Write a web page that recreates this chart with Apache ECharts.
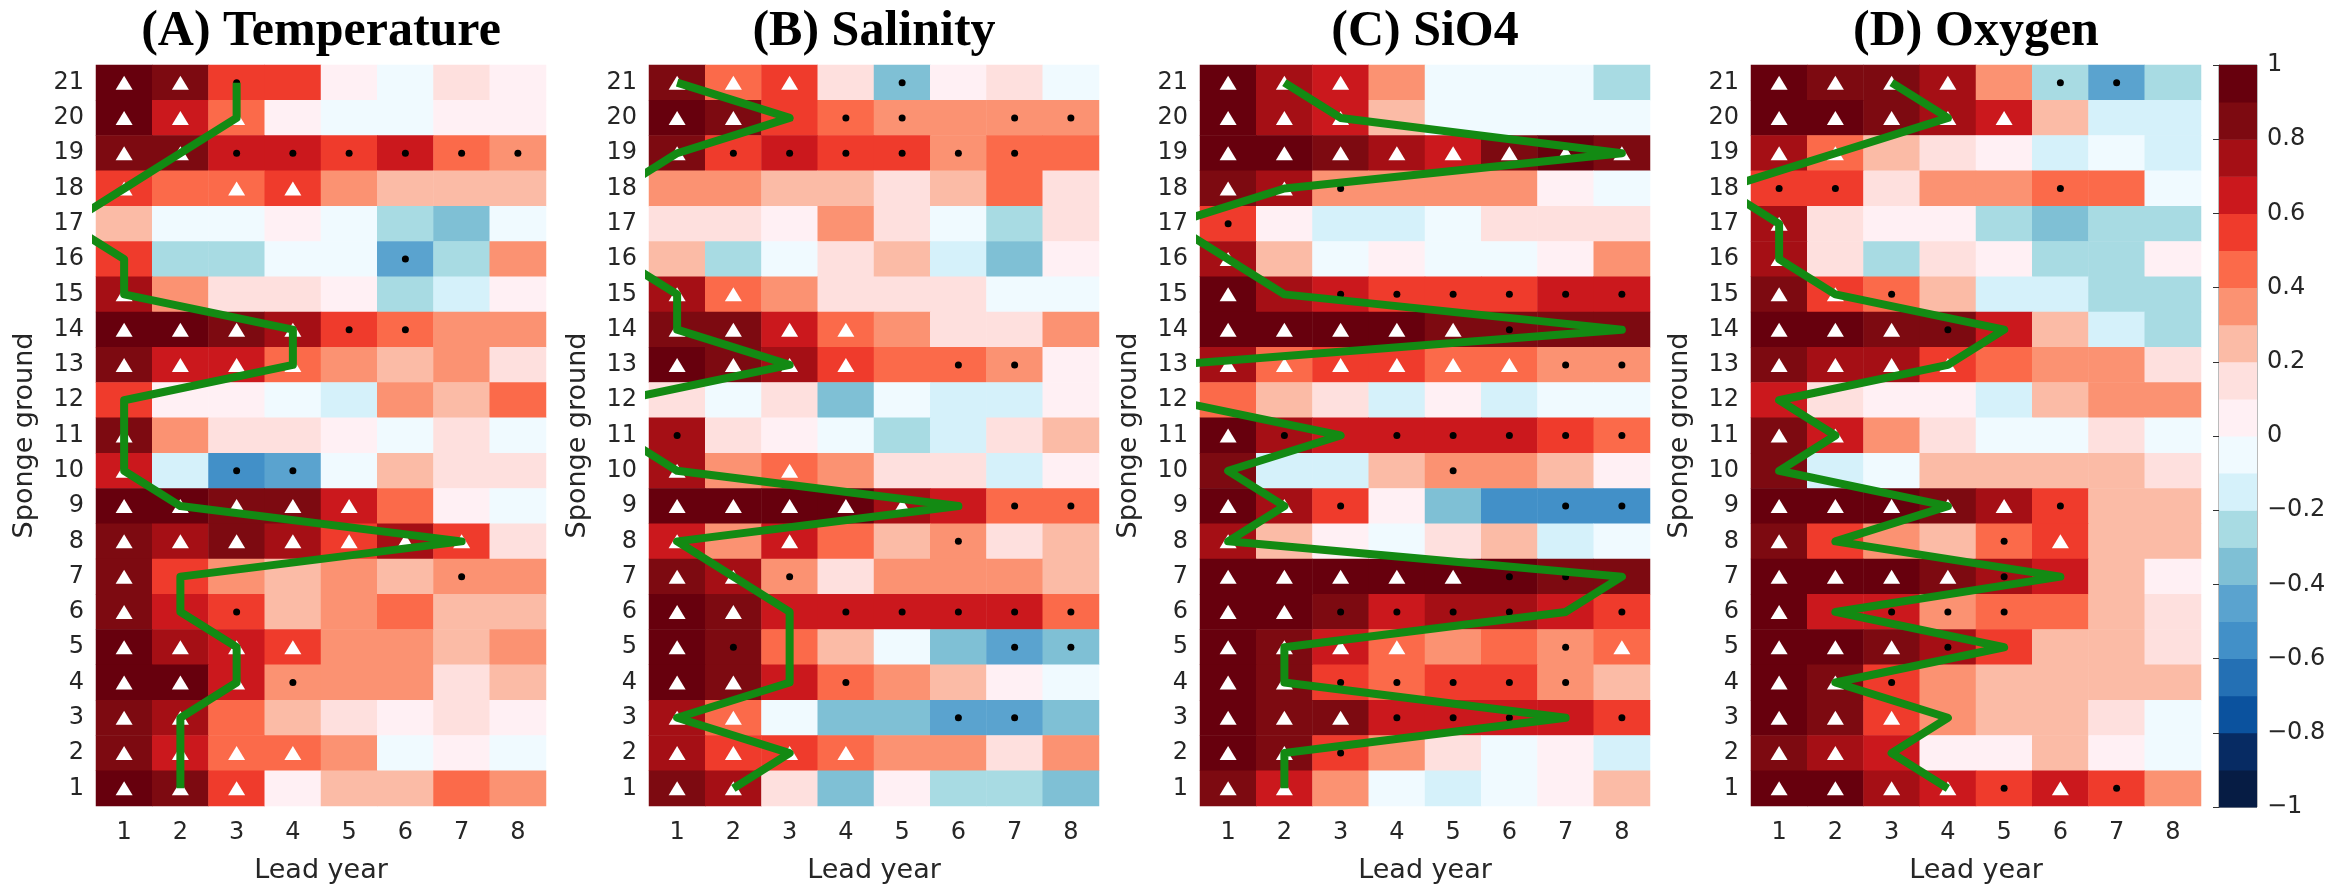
<!DOCTYPE html>
<html>
<head>
<meta charset="utf-8">
<script src="https://cdn.jsdelivr.net/npm/echarts@6/dist/echarts.min.js"></script>
<style>
html,body{margin:0;padding:0;background:#fff;}
#chart{width:2344px;height:889px;}
</style>
</head>
<body>
<div id="chart"></div>
<script>
// ---------- DATA ----------
const leadYears = ['1','2','3','4','5','6','7','8'];
const grounds = ['1','2','3','4','5','6','7','8','9','10','11','12','13','14','15','16','17','18','19','20','21'];
const panelTitles = ['(A) Temperature','(B) Salinity','(C) SiO4','(D) Oxygen'];
const colorbarTicks = [-1,-0.8,-0.6,-0.4,-0.2,0,0.2,0.4,0.6,0.8,1];

// correlation values, rows listed from sponge ground 21 (top) down to 1; columns = lead year 1..8
const tempRows = [
  [0.95,0.85,0.55,0.55,0.05,-0.05,0.15,0.05],
  [0.95,0.65,0.45,0.05,-0.05,-0.05,0.05,0.05],
  [0.85,0.85,0.65,0.65,0.55,0.65,0.45,0.35],
  [0.55,0.45,0.45,0.55,0.35,0.25,0.25,0.25],
  [0.25,-0.05,-0.05,0.05,-0.05,-0.25,-0.35,-0.05],
  [0.55,-0.25,-0.25,-0.05,-0.05,-0.45,-0.25,0.35],
  [0.75,0.35,0.15,0.15,0.05,-0.25,-0.15,0.05],
  [0.95,0.95,0.85,0.75,0.55,0.45,0.35,0.35],
  [0.85,0.65,0.65,0.45,0.35,0.25,0.35,0.15],
  [0.55,0.05,0.05,-0.05,-0.15,0.35,0.25,0.45],
  [0.85,0.35,0.15,0.15,0.05,-0.05,0.15,-0.05],
  [0.65,-0.15,-0.55,-0.45,-0.05,0.25,0.15,0.15],
  [0.95,0.95,0.85,0.85,0.65,0.45,0.05,-0.05],
  [0.85,0.75,0.85,0.75,0.55,0.75,0.55,0.15],
  [0.85,0.55,0.35,0.25,0.35,0.25,0.35,0.35],
  [0.85,0.65,0.55,0.25,0.35,0.45,0.25,0.25],
  [0.95,0.75,0.65,0.55,0.35,0.35,0.25,0.35],
  [0.95,0.95,0.65,0.35,0.35,0.35,0.15,0.25],
  [0.85,0.75,0.45,0.25,0.15,0.05,0.15,0.05],
  [0.85,0.65,0.45,0.45,0.35,-0.05,0.05,-0.05],
  [0.95,0.85,0.55,0.05,0.25,0.25,0.45,0.35]
];
const salRows = [
  [0.85,0.45,0.55,0.15,-0.35,0.05,0.15,-0.05],
  [0.95,0.85,0.55,0.45,0.35,0.35,0.35,0.35],
  [0.85,0.55,0.65,0.55,0.55,0.35,0.45,0.45],
  [0.35,0.35,0.25,0.25,0.15,0.25,0.45,0.15],
  [0.15,0.15,0.05,0.35,0.15,-0.05,-0.25,0.15],
  [0.25,-0.25,-0.05,0.15,0.25,-0.15,-0.35,0.05],
  [0.75,0.45,0.35,0.15,0.15,0.15,-0.05,-0.05],
  [0.85,0.85,0.65,0.45,0.35,0.15,0.15,0.35],
  [0.95,0.85,0.75,0.55,0.45,0.45,0.35,0.05],
  [0.15,-0.05,0.15,-0.35,-0.05,-0.15,-0.15,0.05],
  [0.75,0.15,0.05,-0.05,-0.25,-0.15,0.15,0.25],
  [0.75,0.35,0.45,0.35,0.15,0.15,-0.15,0.05],
  [0.95,0.95,0.95,0.95,0.75,0.65,0.45,0.45],
  [0.65,0.35,0.65,0.45,0.25,0.35,0.15,0.25],
  [0.85,0.75,0.35,0.15,0.35,0.35,0.35,0.25],
  [0.95,0.85,0.65,0.65,0.65,0.65,0.65,0.45],
  [0.95,0.85,0.45,0.25,-0.05,-0.35,-0.45,-0.35],
  [0.95,0.85,0.65,0.45,0.35,0.25,0.05,-0.05],
  [0.75,0.45,-0.05,-0.35,-0.35,-0.45,-0.45,-0.35],
  [0.75,0.55,0.55,0.45,0.35,0.35,0.15,0.35],
  [0.85,0.75,0.15,-0.35,0.05,-0.25,-0.25,-0.35]
];
const sioRows = [
  [0.95,0.75,0.65,0.35,-0.05,-0.05,-0.05,-0.25],
  [0.95,0.75,0.65,0.25,-0.05,-0.05,-0.05,-0.05],
  [0.95,0.95,0.85,0.75,0.65,0.85,0.95,0.85],
  [0.85,0.75,0.35,0.35,0.35,0.35,0.05,-0.05],
  [0.55,0.05,-0.15,-0.15,-0.05,0.15,0.15,0.15],
  [0.75,0.25,-0.05,0.05,-0.05,-0.05,0.05,0.35],
  [0.95,0.75,0.65,0.55,0.55,0.55,0.65,0.65],
  [0.95,0.95,0.95,0.95,0.85,0.85,0.85,0.85],
  [0.75,0.45,0.55,0.55,0.45,0.45,0.35,0.35],
  [0.45,0.25,0.15,-0.15,0.05,-0.15,-0.05,-0.05],
  [0.95,0.75,0.65,0.65,0.65,0.65,0.55,0.45],
  [0.85,-0.15,-0.15,0.25,0.35,0.35,0.25,0.05],
  [0.95,0.75,0.55,0.05,-0.35,-0.55,-0.55,-0.55],
  [0.75,0.25,0.05,-0.05,0.15,0.25,-0.15,-0.05],
  [0.95,0.95,0.95,0.95,0.95,0.95,0.85,0.85],
  [0.95,0.95,0.85,0.65,0.75,0.75,0.65,0.55],
  [0.95,0.85,0.65,0.45,0.35,0.45,0.35,0.45],
  [0.95,0.85,0.55,0.45,0.55,0.55,0.35,0.25],
  [0.95,0.85,0.85,0.65,0.65,0.65,0.65,0.55],
  [0.95,0.85,0.55,0.35,0.15,-0.05,0.05,-0.15],
  [0.85,0.65,0.35,-0.05,-0.15,-0.05,0.05,0.25]
];
const oxyRows = [
  [0.95,0.85,0.85,0.75,0.35,-0.25,-0.45,-0.25],
  [0.95,0.95,0.85,0.75,0.65,0.25,-0.15,-0.15],
  [0.75,0.45,0.25,0.15,0.05,-0.15,-0.05,-0.15],
  [0.55,0.55,0.15,0.35,0.35,0.45,0.45,-0.05],
  [0.75,0.15,0.05,0.05,-0.25,-0.35,-0.25,-0.25],
  [0.75,0.15,-0.25,0.15,0.05,-0.25,-0.25,0.05],
  [0.85,0.55,0.45,0.25,-0.15,-0.15,-0.25,-0.25],
  [0.95,0.95,0.85,0.85,0.65,0.25,-0.15,-0.25],
  [0.85,0.75,0.75,0.55,0.45,0.35,0.35,0.15],
  [0.65,0.15,0.05,0.05,-0.15,0.25,0.35,0.35],
  [0.85,0.65,0.35,0.15,-0.05,-0.05,0.15,-0.05],
  [0.85,-0.15,-0.05,0.25,0.25,0.25,0.25,0.15],
  [0.95,0.95,0.95,0.85,0.75,0.55,0.25,0.25],
  [0.85,0.55,0.35,0.25,0.45,0.55,0.25,0.25],
  [0.95,0.95,0.95,0.85,0.75,0.65,0.25,0.05],
  [0.95,0.65,0.65,0.35,0.45,0.45,0.25,0.15],
  [0.95,0.95,0.85,0.75,0.55,0.25,0.25,0.15],
  [0.95,0.85,0.55,0.35,0.25,0.25,0.25,0.25],
  [0.95,0.85,0.55,0.35,0.25,0.25,0.15,-0.05],
  [0.85,0.75,0.65,0.05,0.05,0.25,0.05,-0.05],
  [0.95,0.95,0.75,0.65,0.55,0.65,0.55,0.35]
];

// significance markers: [lead year, sponge ground]
const tempTriangles = [[1,21],[2,21],[1,20],[2,20],[3,20],[1,19],[2,19],[1,18],[3,18],[4,18],[1,15],[1,14],[2,14],[3,14],[4,14],[1,13],[2,13],[3,13],[4,13],[1,11],[1,10],[1,9],[2,9],[3,9],[4,9],[5,9],[1,8],[2,8],[3,8],[4,8],[5,8],[6,8],[7,8],[1,7],[1,6],[1,5],[2,5],[3,5],[4,5],[1,4],[2,4],[3,4],[1,3],[2,3],[1,2],[2,2],[3,2],[4,2],[1,1],[2,1],[3,1]];
const tempDots = [[3,21],[3,19],[4,19],[5,19],[6,19],[7,19],[8,19],[6,16],[5,14],[6,14],[3,10],[4,10],[7,7],[3,6],[4,4]];
const salTriangles = [[1,21],[2,21],[3,21],[1,20],[2,20],[1,19],[1,15],[2,15],[1,14],[2,14],[3,14],[4,14],[1,13],[2,13],[3,13],[4,13],[1,10],[3,10],[1,9],[2,9],[3,9],[4,9],[5,9],[1,8],[3,8],[1,7],[2,7],[1,6],[2,6],[1,5],[1,4],[2,4],[1,3],[2,3],[1,2],[2,2],[3,2],[4,2],[1,1],[2,1]];
const salDots = [[5,21],[4,20],[5,20],[7,20],[8,20],[2,19],[3,19],[4,19],[5,19],[6,19],[7,19],[6,13],[7,13],[1,11],[7,9],[8,9],[6,8],[3,7],[4,6],[5,6],[6,6],[7,6],[8,6],[2,5],[7,5],[8,5],[4,4],[6,3],[7,3]];
const sioTriangles = [[1,21],[2,21],[3,21],[1,20],[2,20],[3,20],[1,19],[2,19],[3,19],[4,19],[5,19],[6,19],[7,19],[8,19],[1,18],[2,18],[1,16],[1,15],[1,14],[2,14],[3,14],[4,14],[5,14],[1,13],[2,13],[3,13],[4,13],[5,13],[6,13],[1,11],[1,9],[2,9],[1,8],[1,7],[2,7],[3,7],[4,7],[5,7],[1,6],[2,6],[1,5],[2,5],[3,5],[4,5],[8,5],[1,4],[2,4],[1,3],[2,3],[3,3],[1,2],[2,2],[1,1],[2,1]];
const sioDots = [[3,18],[1,17],[3,15],[4,15],[5,15],[6,15],[7,15],[8,15],[6,14],[7,13],[8,13],[2,11],[4,11],[5,11],[6,11],[7,11],[8,11],[5,10],[3,9],[7,9],[8,9],[6,7],[7,7],[3,6],[4,6],[5,6],[6,6],[8,6],[7,5],[3,4],[4,4],[5,4],[6,4],[7,4],[4,3],[5,3],[6,3],[8,3],[3,2]];
const oxyTriangles = [[1,21],[2,21],[3,21],[4,21],[1,20],[2,20],[3,20],[4,20],[5,20],[1,19],[2,19],[1,17],[1,16],[1,15],[2,15],[1,14],[2,14],[3,14],[1,13],[2,13],[3,13],[4,13],[1,11],[2,11],[1,9],[2,9],[3,9],[4,9],[5,9],[1,8],[6,8],[1,7],[2,7],[3,7],[4,7],[1,6],[1,5],[2,5],[3,5],[1,4],[2,4],[1,3],[2,3],[3,3],[1,2],[2,2],[1,1],[2,1],[3,1],[4,1],[6,1]];
const oxyDots = [[6,21],[7,21],[1,18],[2,18],[6,18],[3,15],[4,14],[6,9],[5,8],[5,7],[3,6],[4,6],[5,6],[4,5],[3,4],[5,1],[7,1]];

// green line: lead year per sponge ground 1..21 (0 = falls outside the axes)
const tempLine = [2,2,2,3,3,2,2,7,2,1,1,1,4,4,1,1,0,1,2,3,3];
const salLine  = [2,3,1,3,3,3,2,1,6,1,0,0,3,1,1,0,0,0,1,3,1];
const sioLine  = [2,2,7,2,2,7,8,1,2,1,3,0,0,8,2,1,0,2,8,3,2];
const oxyLine  = [4,3,4,2,5,2,6,2,4,1,2,1,4,5,2,1,1,0,2,4,3];

// ---------- STYLE / LAYOUT ----------
const levelColors = [ // from -1 (bottom) to 1 (top), 0.1 steps
  '#061c44','#072b63','#0b529e','#2470b4','#4290c8','#5aa3cf','#7fc0d5','#a8dbe3','#d5f1fa','#f0faff',
  '#fff0f4','#fee0de','#fbbba6','#fb9272','#fb6a4a','#ef3b2c','#cb181d','#a50f15','#7d0a11','#67000d'
];
const gridLefts = [96, 649, 1200, 1751];
const gridTop = 65, gridH = 742, gridW = 450;
const txt = '#262626';
const sansFont = 'DejaVu Sans';

const panels = [
  {rows: tempRows, tri: tempTriangles, dot: tempDots, line: tempLine},
  {rows: salRows, tri: salTriangles, dot: salDots, line: salLine},
  {rows: sioRows, tri: sioTriangles, dot: sioDots, line: sioLine},
  {rows: oxyRows, tri: oxyTriangles, dot: oxyDots, line: oxyLine}
];

const grid = [], xAxis = [], yAxis = [], series = [], title = [];
const heatSeries = [], markSeries = [], lineSeries = [];

panels.forEach((p, k) => {
  grid.push({left: gridLefts[k], top: gridTop, width: gridW, height: gridH, containLabel: false});
  title.push({
    text: panelTitles[k], left: gridLefts[k] + gridW / 2, top: 7, textAlign: 'center', padding: 0,
    textStyle: {fontFamily: 'Liberation Serif', fontWeight: 'bold', fontSize: 50, color: '#000'}
  });
  xAxis.push({
    type: 'category', gridIndex: k, data: leadYears,
    axisLine: {show: false}, axisTick: {show: false}, splitLine: {show: false},
    axisLabel: {fontSize: 24, color: txt, margin: 15, fontFamily: sansFont},
    name: 'Lead year', nameLocation: 'middle', nameGap: 51,
    nameTextStyle: {fontSize: 27, color: txt, fontFamily: sansFont}
  });
  xAxis.push({type: 'value', gridIndex: k, min: 0.5, max: 8.5, show: false});
  yAxis.push({
    type: 'category', gridIndex: k, data: grounds,
    axisLine: {show: false}, axisTick: {show: false}, splitLine: {show: false},
    axisLabel: {fontSize: 24, color: txt, margin: 12, interval: 0, fontFamily: sansFont},
    name: 'Sponge ground', nameLocation: 'middle', nameGap: 58, nameRotate: 90,
    nameTextStyle: {fontSize: 27, color: txt, fontFamily: sansFont}
  });
  yAxis.push({type: 'value', gridIndex: k, min: 0.5, max: 21.5, show: false});

  const cells = [];
  p.rows.forEach((row, i) => {
    const g = 21 - i;
    row.forEach((v, j) => cells.push([j, g - 1, v]));
  });
  heatSeries.push({
    type: 'heatmap', xAxisIndex: 2 * k, yAxisIndex: 2 * k, data: cells, z: 1,
    emphasis: {disabled: true}
  });
  markSeries.push({
    type: 'scatter', xAxisIndex: 2 * k + 1, yAxisIndex: 2 * k + 1, data: p.tri,
    symbol: 'triangle', symbolSize: [17, 14], itemStyle: {color: '#ffffff', opacity: 1}, z: 3, silent: true
  });
  markSeries.push({
    type: 'scatter', xAxisIndex: 2 * k + 1, yAxisIndex: 2 * k + 1, data: p.dot,
    symbol: 'circle', symbolSize: 7, itemStyle: {color: '#000000', opacity: 1}, z: 3, silent: true
  });
  lineSeries.push({
    type: 'line', xAxisIndex: 2 * k + 1, yAxisIndex: 2 * k + 1,
    data: p.line.map((v, i) => [v, i + 1]),
    showSymbol: false, clip: true, z: 4, silent: true,
    lineStyle: {color: '#138a13', width: 8, join: 'round', cap: 'butt'}
  });
});

// colorbar grid (axes index 8)
grid.push({left: 2219, top: gridTop, width: 38, height: gridH, show: true, borderColor: '#777', borderWidth: 1});
xAxis.push({type: 'value', gridIndex: 4, min: 0, max: 1, show: false});
yAxis.push({
  type: 'value', gridIndex: 4, min: -1, max: 1, interval: 0.2, position: 'right',
  axisLine: {show: true, lineStyle: {color: '#777'}},
  axisTick: {show: true, inside: true, length: 6, lineStyle: {color: '#333'}},
  splitLine: {show: false},
  axisLabel: {
    fontSize: 24, color: txt, margin: 10, fontFamily: sansFont,
    formatter: v => { const r = Math.round(v * 10) / 10; return r < 0 ? '\u2212' + Math.abs(r) : String(r); }
  }
});
const levelLows = levelColors.map((c, i) => Math.round((-1 + i * 0.1) * 10) / 10);
const colorbarData = levelLows.map(lo => [lo, Math.round((lo + 0.1) * 10) / 10]);

const pieces = levelLows.map((lo, i) => (i === levelLows.length - 1
  ? {gte: lo, lte: 1, color: levelColors[i]}
  : {gte: lo, lt: Math.round((lo + 0.1) * 10) / 10, color: levelColors[i]}));

series.push(...heatSeries, ...markSeries, ...lineSeries);
series.push({
  type: 'custom', xAxisIndex: 8, yAxisIndex: 8, data: colorbarData, silent: true, z: 1,
  renderItem: (params, api) => {
    const lo = api.value(0), hi = api.value(1);
    const a = api.coord([0, hi]), b = api.coord([1, lo]);
    return {type: 'rect', shape: {x: a[0], y: a[1], width: b[0] - a[0], height: b[1] - a[1] + 0.5},
            style: {fill: levelColors[params.dataIndex]}};
  }
});

const chart = echarts.init(document.getElementById('chart'), null, {renderer: 'canvas'});
chart.setOption({
  backgroundColor: '#ffffff',
  animation: false,
  title: title,
  grid: grid,
  xAxis: xAxis,
  yAxis: yAxis,
  visualMap: {
    type: 'piecewise', show: false, dimension: 2, seriesIndex: [0, 1, 2, 3], pieces: pieces
  },
  series: series
});
</script>
</body>
</html>
